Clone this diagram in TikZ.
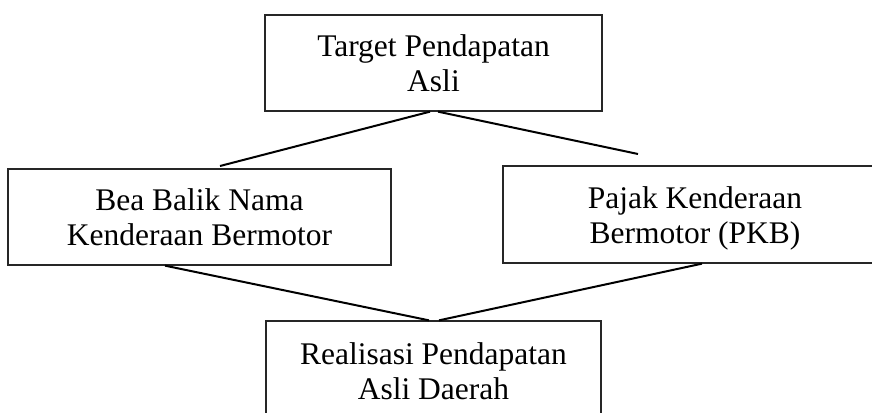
\documentclass[tikz,border=0pt]{standalone}
\usepackage{fontspec}
\setmainfont{Liberation Serif}
\begin{document}
\begin{tikzpicture}[x=1pt,y=-1pt,
  boxtext/.style={align=center, inner sep=0pt, font=\fontsize{31.5}{35}\selectfont},
  box/.style={boxtext, draw=black!85, line width=1.3pt},
  link/.style={draw=black, line width=2pt}]
\useasboundingbox (0,0) rectangle (872,412);
\clip (0,0) rectangle (872,412);
\node[box, minimum width=337pt, minimum height=96pt] (t) at (433.5,63) {Target Pendapatan\\Asli};
\node[box, minimum width=383pt, minimum height=96pt] (l) at (199.5,217) {Bea Balik Nama\\Kenderaan Bermotor};
\node[box, minimum width=384pt, minimum height=97pt,
  label={[boxtext, yshift=-4pt]center:{Pajak Kenderaan\\Bermotor (PKB)}}] (r) at (695,214.5) {};
\node[box, minimum width=335pt, minimum height=100pt] (b) at (433.5,371) {Realisasi Pendapatan\\Asli Daerah};
\coordinate (tl) at (220,166);
\coordinate (tr) at (638,154);
\draw[link] ([xshift=-3.5pt]t.south) -- (tl);
\draw[link] ([xshift=4.5pt]t.south) -- (tr);
\draw[link] ([xshift=-34.5pt]l.south) -- ([xshift=-4.5pt]b.north);
\draw[link] ([xshift=7pt]r.south) -- ([xshift=5.5pt]b.north);
\end{tikzpicture}
\end{document}
